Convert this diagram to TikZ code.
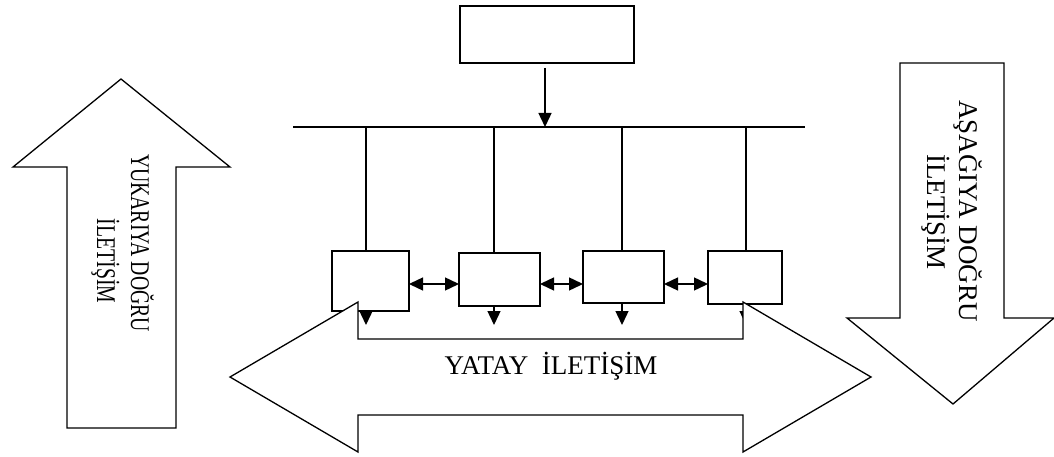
\documentclass[tikz,border=0pt]{standalone}
\usepackage{fontspec}
\setmainfont{Liberation Serif}
\usetikzlibrary{arrows.meta}
\begin{document}
\begin{tikzpicture}[x=1pt,y=-1pt,
  line width=1.4pt,
  box/.style={draw, rectangle, inner sep=0pt, outer sep=0pt},
  arr/.style={-{Triangle[length=14pt,width=13pt]}},
  darr/.style={{Triangle[length=14pt,width=13pt]}-{Triangle[length=14pt,width=13pt]}},
  bigarrow/.style={draw, fill=white, line width=1.3pt, line join=miter},
  vlabel/.style={rotate=-90, anchor=base, inner sep=0pt, font=\fontsize{27}{34}\selectfont},
  hlabel/.style={inner sep=0pt, font=\fontsize{27}{32}\selectfont}
]
\useasboundingbox (0,0) rectangle (1054,457);

% top box
\node[box, minimum width=174pt, minimum height=57pt] (top) at (547,34.5) {};
% bus
\coordinate (busL) at (293,127);
\coordinate (busR) at (805,127);
\draw (busL) -- (busR);
\draw[arr] ([yshift=-5pt]top.south -| 545,0) -- (545,127);

% small boxes
\node[box, minimum width=77pt, minimum height=60pt] (b1) at (370.5,281) {};
\node[box, minimum width=81pt, minimum height=53pt] (b2) at (499.5,279.5) {};
\node[box, minimum width=81pt, minimum height=52pt] (b3) at (623.5,277) {};
\node[box, minimum width=74pt, minimum height=53pt] (b4) at (745,277.5) {};

% taps on the bus
\coordinate (t1) at (366,127);
\coordinate (t2) at (494,127);
\coordinate (t3) at (622,127);
\coordinate (t4) at (746,127);
\foreach \i in {1,2,3,4} \draw (t\i) -- (t\i |- b\i.north);

% horizontal links
\coordinate (ha) at (0,284);
\draw[darr] (b1.east |- ha) -- (b2.west |- ha);
\draw[darr] (b2.east |- ha) -- (b3.west |- ha);
\draw[darr] (b3.east |- ha) -- (b4.west |- ha);

% down arrows
\coordinate (dt) at (0,325);
\foreach \i in {1,2,3,4} \draw[arr] (t\i |- b\i.south) -- (t\i |- dt);

% big horizontal double arrow
\draw[bigarrow] (230,377) -- (358,302) -- (358,339) -- (743,339) -- (743,302)
  -- (871,377) -- (743,452) -- (743,415) -- (358,415) -- (358,452) -- cycle;
\node[hlabel, anchor=base] (yatay) at (551,374) {YATAY\hspace{0.5em}İLETİŞİM};

% left up arrow
\draw[bigarrow] (121,79) -- (230,167) -- (176,167) -- (176,428) -- (67,428)
  -- (67,167) -- (13,167) -- cycle;
\node[vlabel] (yukari1) at (131,243) {\scalebox{0.73}[1]{YUKARIYA DOĞRU}};
\node[vlabel] (yukari2) at (97,261) {\scalebox{0.73}[1]{İLETİŞİM}};

% right down arrow
\draw[bigarrow] (953,404) -- (1054,318) -- (1004,318) -- (1004,63) -- (900,63)
  -- (900,318) -- (847,318) -- cycle;
\node[vlabel] (asagi1) at (959,211) {AŞAĞIYA DOĞRU};
\node[vlabel] (asagi2) at (927,212) {İLETİŞİM};
\end{tikzpicture}
\end{document}
